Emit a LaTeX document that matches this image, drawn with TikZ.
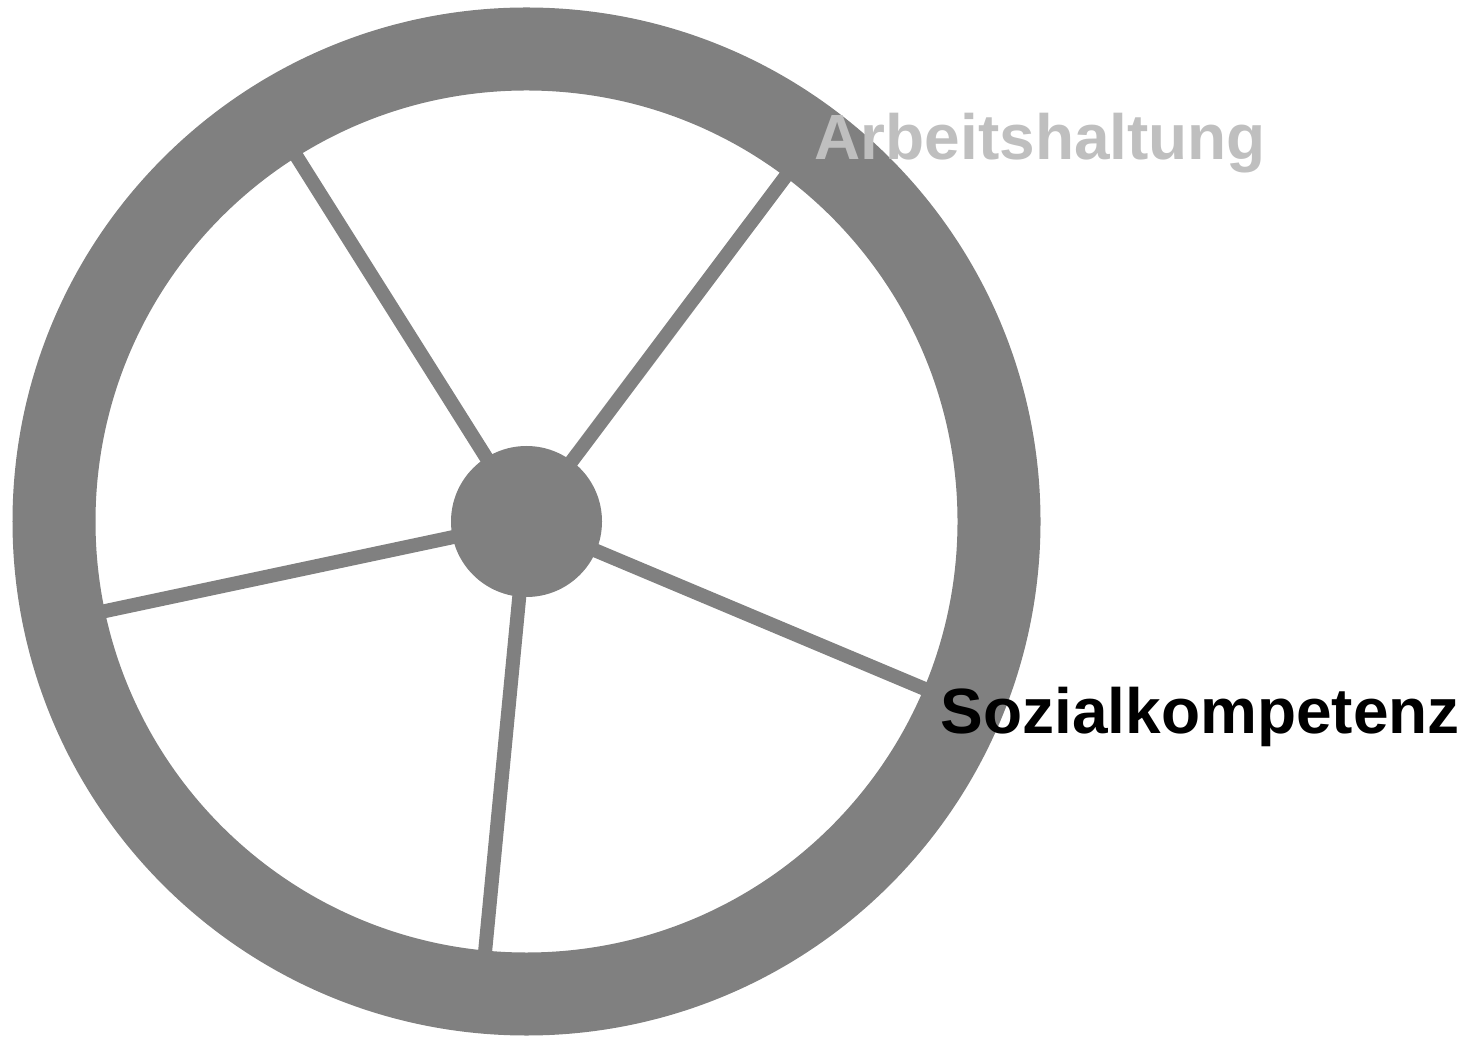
\documentclass[tikz,border=0pt]{standalone}
\usepackage{fontspec}
\setmainfont{Liberation Sans}
\usetikzlibrary{calc}
\begin{document}
\begin{tikzpicture}
    \useasboundingbox (0,0) rectangle (14.84,10.36);
    % ring
    \draw[line width=0.83cm, draw=gray] (5.265,5.145) circle (4.725);
    \node[circle, fill=gray, minimum size=1.51cm, inner sep=0pt] (hub) at (5.265,5.145) {};
    % spokes
    \foreach \ang [count=\i] in {53.1, 122.2, 192.0, 264.5, 337.2} {
      \coordinate (rim\i) at ($(hub.center)+(\ang:4.45)$);
      \draw[line width=0.14cm, draw=gray] (hub.center) -- (rim\i);
    }
    \node[font=\fontsize{18.2}{22}\selectfont\bfseries, text=gray!50,
      anchor=base west, inner sep=0pt] (arbeit) at (8.14,8.76) {Arbeitshaltung};
    \node[font=\fontsize{18.2}{22}\selectfont\bfseries, text=black,
      anchor=base west, inner sep=0pt] (sozial) at (9.40,3.03) {Sozialkompetenz};
  \end{tikzpicture}
\end{document}
